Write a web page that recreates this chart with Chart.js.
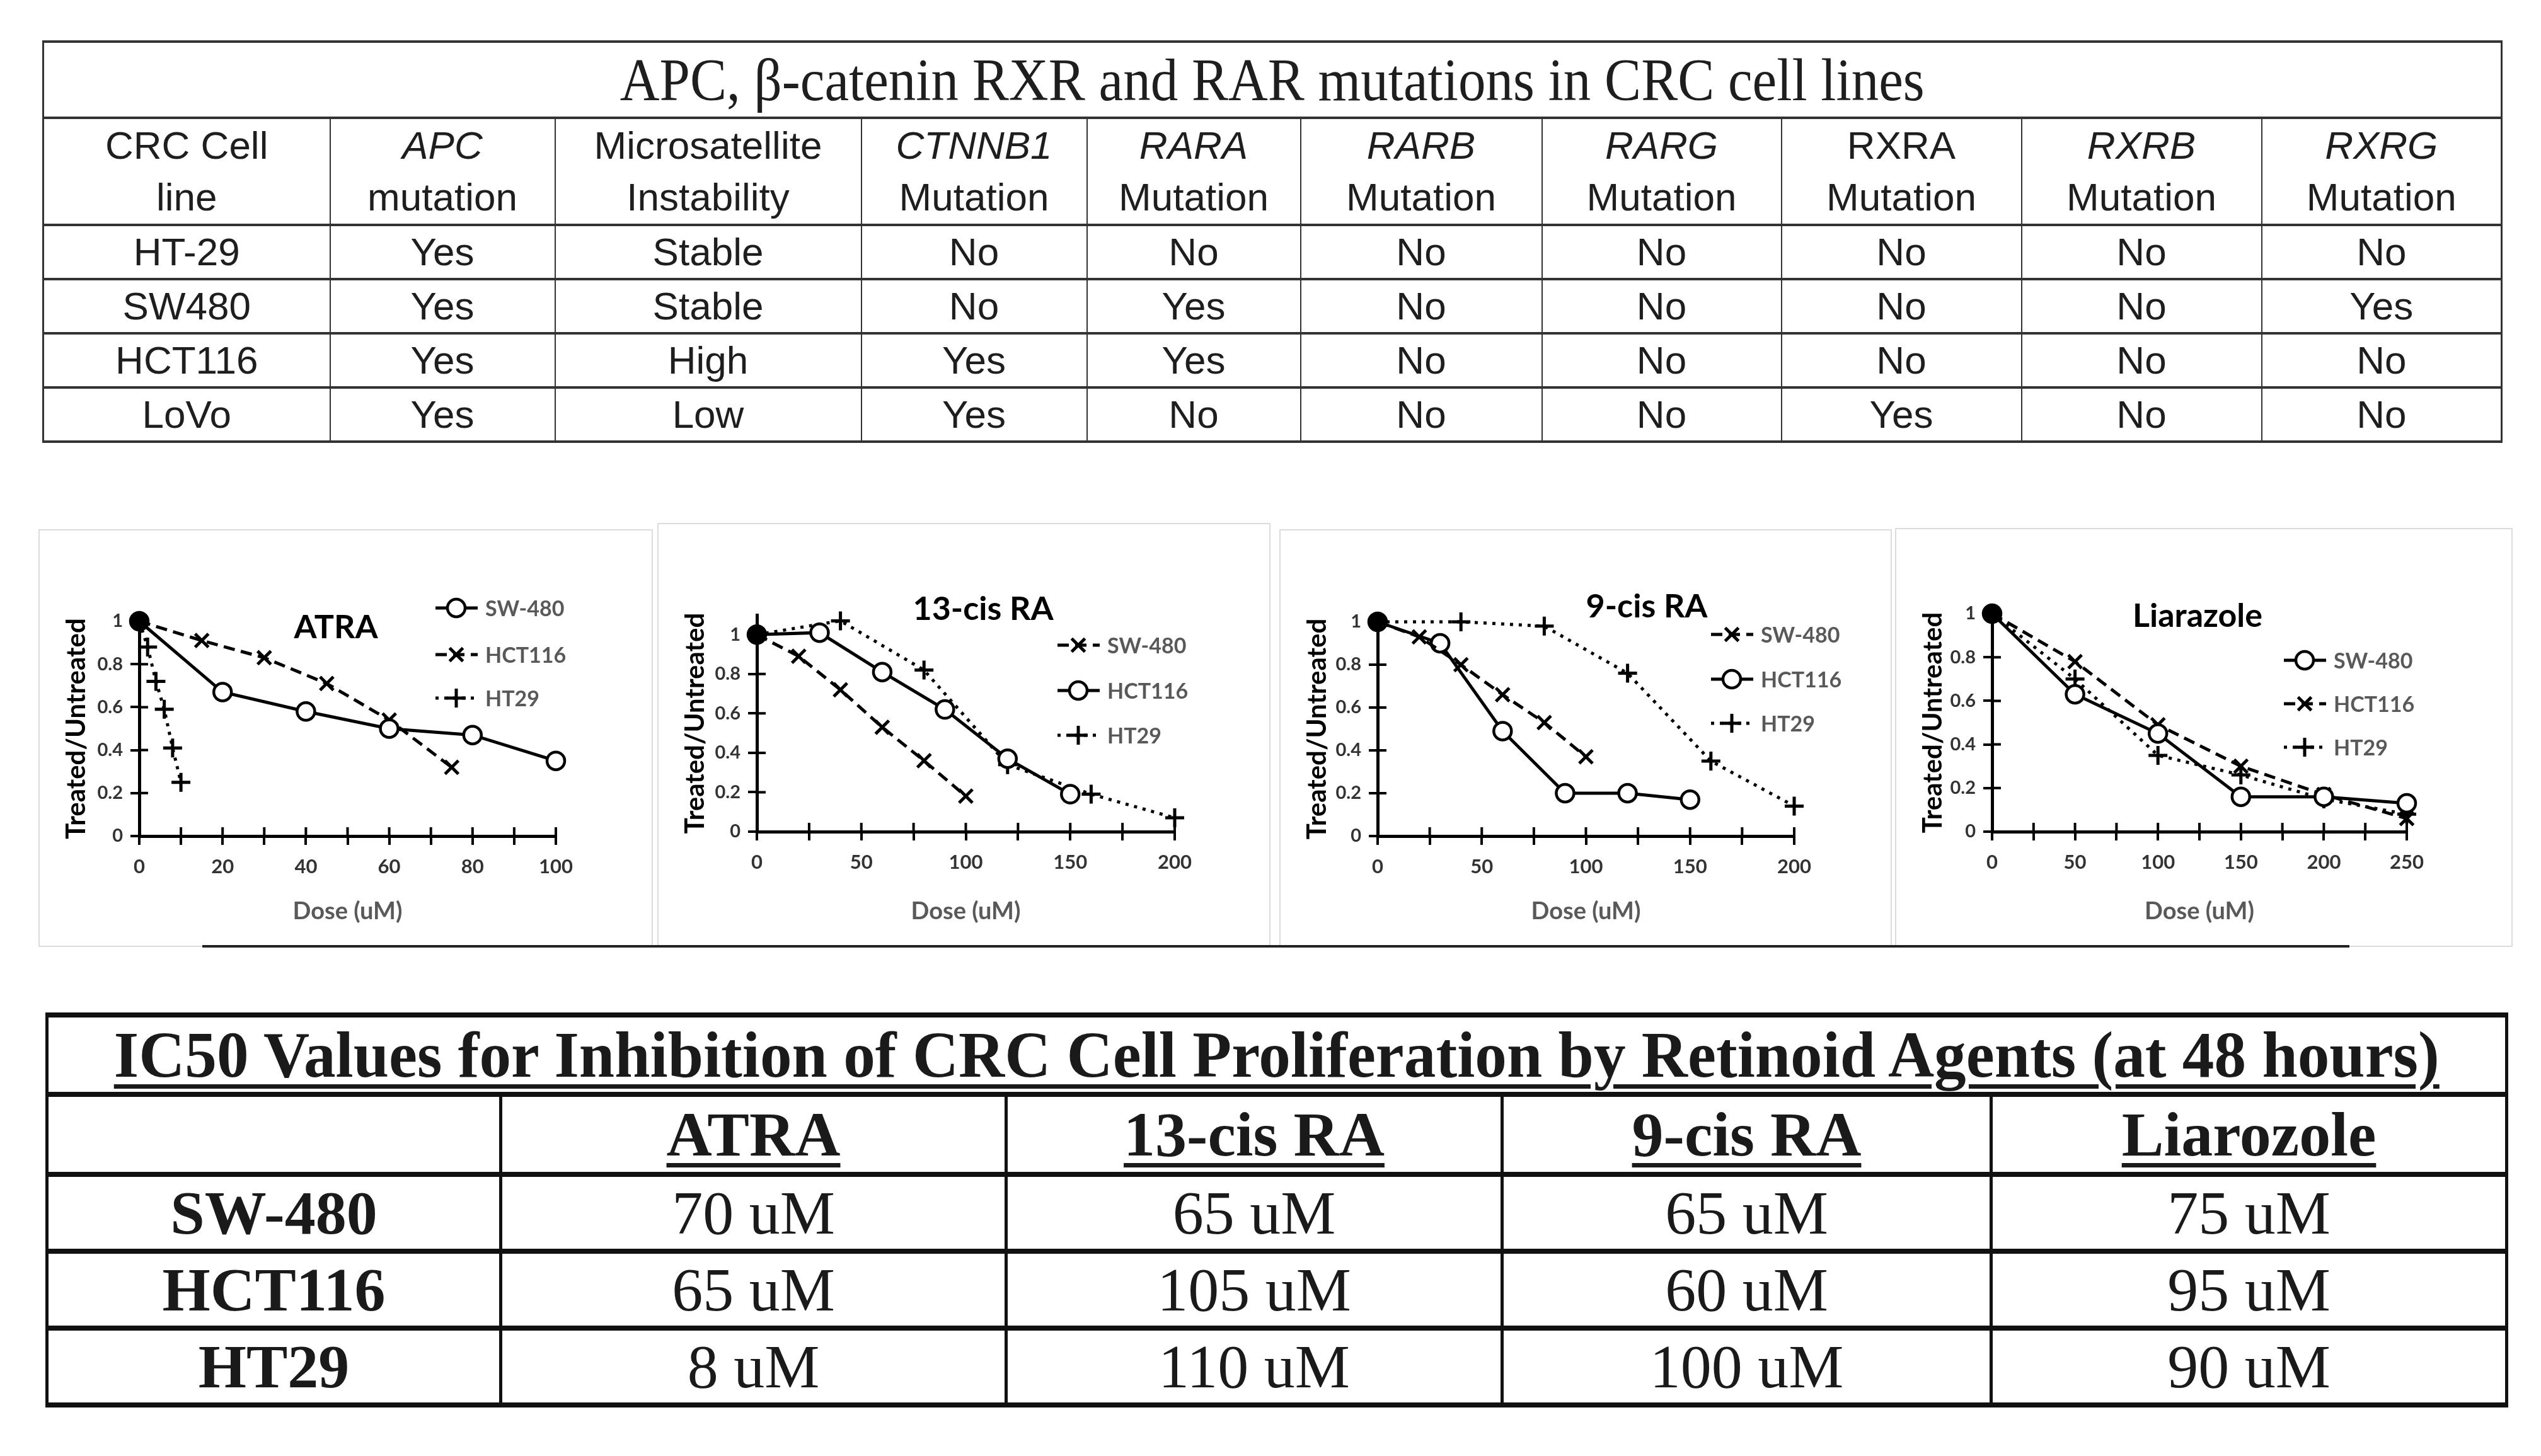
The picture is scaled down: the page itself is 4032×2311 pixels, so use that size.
<!DOCTYPE html>
<html>
<head>
<meta charset="utf-8">
<title>Retinoid agents in CRC cell lines</title>
<script src="https://cdn.jsdelivr.net/npm/chart.js@4.4.1/dist/chart.umd.min.js"></script>
<style>
  html, body { margin: 0; padding: 0; background: #fff; }
  body { position: relative; width: 4032px; height: 2311px; overflow: hidden; }
  table { position: absolute; border-collapse: collapse; table-layout: fixed; }
  td { padding: 0; text-align: center; vertical-align: middle; }

  #mutations { left: 67px; top: 64px; width: 3901px; border: 3px solid #333;
    font-family: 'Liberation Sans', Arial, sans-serif; font-size: 62px; color: #1e1e1e; }
  #mutations td { border: 2px solid #333; border-top-width: 4px; border-bottom-width: 4px; line-height: 82px; }
  #mutations tr.title td { height: 117px; font-family: 'Liberation Serif', 'Times New Roman', serif; font-size: 96px; }
  #mutations tr.head td { height: 166px; }
  #mutations tr.row td { height: 82px; }

  #ic50 { left: 72px; top: 1607px; width: 3903px; border-left: 4px solid #111; border-right: 4px solid #111;
    font-family: 'Liberation Serif', 'Times New Roman', serif; font-size: 98px; color: #1a1a1a; }
  #ic50 td { border-top: 8px solid #111; border-bottom: 8px solid #111; border-left: 5px solid #111; border-right: 5px solid #111; line-height: 1; }
  #ic50 tr.title td { height: 118px; font-weight: bold; font-size: 104px; }
  #ic50 tr.head td { height: 119px; font-weight: bold; font-size: 100px; }
  #ic50 tr.row td { height: 114px; }
  #ic50 td.line { font-weight: bold; }
  .ul { text-decoration: underline; text-decoration-thickness: 7px; text-underline-offset: 12px; }
  .fit { display: inline-block; white-space: nowrap; transform-origin: center; }

  .panel { position: absolute; box-sizing: border-box; border: 2px solid #dcdcdc; background: #fff; }
  .panel canvas { position: absolute; left: -2px; top: -2px; }
  #rule { position: absolute; left: 321px; top: 1500px; width: 3407px; height: 4px; background: #222; }
</style>
</head>
<body>
<table id="mutations"></table>
<div id="panels"></div>
<div id="rule"></div>
<table id="ic50"></table>

<script>
// ---- mutation table ----
const mutationTitle = 'APC, \u03b2-catenin RXR and RAR mutations in CRC cell lines';
const mutationHeadTop = ['CRC Cell', 'APC', 'Microsatellite', 'CTNNB1', 'RARA', 'RARB', 'RARG', 'RXRA', 'RXRB', 'RXRG'];
const mutationHeadBottom = ['line', 'mutation', 'Instability', 'Mutation', 'Mutation', 'Mutation', 'Mutation', 'Mutation', 'Mutation', 'Mutation'];
const mutationHeadItalic = [false, true, false, true, true, true, true, false, true, true];
const cellLines = ['HT-29', 'SW480', 'HCT116', 'LoVo'];
const mutationRows = [
  ['Yes', 'Stable', 'No', 'No', 'No', 'No', 'No', 'No', 'No'],
  ['Yes', 'Stable', 'No', 'Yes', 'No', 'No', 'No', 'No', 'Yes'],
  ['Yes', 'High', 'Yes', 'Yes', 'No', 'No', 'No', 'No', 'No'],
  ['Yes', 'Low', 'Yes', 'No', 'No', 'No', 'Yes', 'No', 'No'],
];
const mutationColWidths = [455, 357, 486, 358, 339, 383, 380, 381, 381, 381];

// ---- IC50 table ----
const ic50Title = 'IC50 Values for Inhibition of CRC Cell Proliferation by Retinoid Agents (at 48 hours)';
const agents = ['ATRA', '13-cis RA', '9-cis RA', 'Liarozole'];
const ic50Lines = ['SW-480', 'HCT116', 'HT29'];
const ic50Values = [
  [70, 65, 65, 75],
  [65, 105, 60, 95],
  [8, 110, 100, 90],
];
const ic50ColWidths = [720, 802, 787, 776, 818];

// ---- dose response curves (Treated/Untreated) ----
const yTickValues = [0, 0.2, 0.4, 0.6, 0.8, 1];

const atraSw480Dose = [0, 20, 40, 60, 80, 100];
const atraSw480 = [1, 0.67, 0.58, 0.50, 0.47, 0.35];
const atraHct116Dose = [0, 15, 30, 45, 60, 75];
const atraHct116 = [1, 0.91, 0.83, 0.71, 0.54, 0.32];
const atraHt29Dose = [0, 2, 4, 6, 8, 10];
const atraHt29 = [1, 0.88, 0.72, 0.59, 0.41, 0.25];

const cis13Sw480Dose = [0, 20, 40, 60, 80, 100];
const cis13Sw480 = [1, 0.89, 0.72, 0.53, 0.36, 0.18];
const cis13Hct116Dose = [0, 30, 60, 90, 120, 150];
const cis13Hct116 = [1, 1.01, 0.81, 0.62, 0.37, 0.19];
const cis13Ht29Dose = [0, 40, 80, 120, 160, 200];
const cis13Ht29 = [1, 1.07, 0.82, 0.34, 0.19, 0.07];

const cis9Sw480Dose = [0, 20, 40, 60, 80, 100];
const cis9Sw480 = [1, 0.93, 0.80, 0.66, 0.53, 0.37];
const cis9Hct116Dose = [0, 30, 60, 90, 120, 150];
const cis9Hct116 = [1, 0.90, 0.49, 0.20, 0.20, 0.17];
const cis9Ht29Dose = [0, 40, 80, 120, 160, 200];
const cis9Ht29 = [1, 1.0, 0.98, 0.76, 0.35, 0.14];

const liaDose = [0, 50, 100, 150, 200, 250];
const liaSw480 = [1, 0.63, 0.45, 0.16, 0.16, 0.13];
const liaHct116 = [1, 0.78, 0.49, 0.30, 0.17, 0.06];
const liaHt29 = [1, 0.70, 0.35, 0.26, 0.15, 0.08];

// build the mutation table
function el(tag, cls, html) {
  const e = document.createElement(tag);
  if (cls) e.className = cls;
  if (html !== undefined) e.innerHTML = html;
  return e;
}

const mt = document.getElementById('mutations');
const mcg = el('colgroup');
mutationColWidths.forEach(w => { const c = el('col'); c.style.width = w + 'px'; mcg.appendChild(c); });
mt.appendChild(mcg);
let tr = el('tr', 'title');
let td = el('td', '', `<span class="fit" id="mutTitle">${mutationTitle}</span>`);
td.colSpan = mutationColWidths.length;
tr.appendChild(td);
mt.appendChild(tr);
tr = el('tr', 'head');
mutationHeadTop.forEach((h, i) => {
  const top = mutationHeadItalic[i] ? `<i>${h}</i>` : h;
  tr.appendChild(el('td', '', `${top}<br>${mutationHeadBottom[i]}`));
});
mt.appendChild(tr);
cellLines.forEach((line, r) => {
  const row = el('tr', 'row');
  row.appendChild(el('td', '', line));
  mutationRows[r].forEach(v => row.appendChild(el('td', '', v)));
  mt.appendChild(row);
});

// build the IC50 table
const it = document.getElementById('ic50');
const icg = el('colgroup');
ic50ColWidths.forEach(w => { const c = el('col'); c.style.width = w + 'px'; icg.appendChild(c); });
it.appendChild(icg);
tr = el('tr', 'title');
td = el('td', '', `<span class="fit ul" id="icTitle">${ic50Title}</span>`);
td.colSpan = 5;
tr.appendChild(td);
it.appendChild(tr);
tr = el('tr', 'head');
tr.appendChild(el('td', '', ''));
agents.forEach(a => tr.appendChild(el('td', '', `<span class="ul">${a}</span>`)));
it.appendChild(tr);
ic50Lines.forEach((line, r) => {
  const row = el('tr', 'row');
  row.appendChild(el('td', 'line', line));
  ic50Values[r].forEach(v => row.appendChild(el('td', '', `${v} uM`)));
  it.appendChild(row);
});

// squeeze the two serif titles to the width they have in the figure
function fitWidth(id, target) {
  const s = document.getElementById(id);
  s.style.transform = '';
  const w = s.getBoundingClientRect().width;
  s.style.transform = `scaleX(${target / w})`;
}

// ---- charts ----
const styles = {
  solidCircle: { borderDash: [], pointStyle: 'circle', pointRadius: 14, pointBorderWidth: 4.5 },
  dashedCross: { borderDash: [18, 10], pointStyle: 'crossRot', pointRadius: 15, pointBorderWidth: 5 },
  dottedPlus: { borderDash: [5, 9], pointStyle: 'cross', pointRadius: 15, pointBorderWidth: 5 },
};

function series(label, doses, values, style) {
  return {
    label,
    data: doses.map((d, i) => ({ x: d, y: values[i] })),
    borderColor: '#000',
    borderWidth: 5,
    pointBorderColor: '#000',
    pointBackgroundColor: ctx => (ctx.dataIndex === 0 ? '#000' : '#fff'),
    clip: false,
    ...styles[style],
  };
}

const panels = [
  {
    title: 'ATRA', box: [61, 840, 975, 663], area: [160, 146, 821, 487],
    titlePos: [472, 156], legend: { x: 630, ys: [125, 199, 268] },
    xMax: 100, xStep: 10, xLabelStep: 20, yMax: 1,
    datasets: [
      series('SW-480', atraSw480Dose, atraSw480, 'solidCircle'),
      series('HCT116', atraHct116Dose, atraHct116, 'dashedCross'),
      series('HT29', atraHt29Dose, atraHt29, 'dottedPlus'),
    ],
  },
  {
    title: '13-cis RA', box: [1043, 830, 973, 673], area: [158, 146, 821, 490],
    titlePos: [517, 137], legend: { x: 635, ys: [194, 266, 337] },
    xMax: 200, xStep: 25, xLabelStep: 50, yMax: 1.1,
    datasets: [
      series('SW-480', cis13Sw480Dose, cis13Sw480, 'dashedCross'),
      series('HCT116', cis13Hct116Dose, cis13Hct116, 'solidCircle'),
      series('HT29', cis13Ht29Dose, cis13Ht29, 'dottedPlus'),
    ],
  },
  {
    title: '9-cis RA', box: [2030, 840, 972, 663], area: [156, 147, 817, 487],
    titlePos: [583, 123], legend: { x: 685, ys: [167, 238, 308] },
    xMax: 200, xStep: 25, xLabelStep: 50, yMax: 1,
    datasets: [
      series('SW-480', cis9Sw480Dose, cis9Sw480, 'dashedCross'),
      series('HCT116', cis9Hct116Dose, cis9Hct116, 'solidCircle'),
      series('HT29', cis9Ht29Dose, cis9Ht29, 'dottedPlus'),
    ],
  },
  {
    title: 'Liarazole', box: [3007, 838, 980, 665], area: [154, 136, 812, 482],
    titlePos: [480, 140], legend: { x: 617, ys: [210, 279, 348] },
    xMax: 250, xStep: 25, xLabelStep: 50, yMax: 1,
    datasets: [
      series('SW-480', liaDose, liaSw480, 'solidCircle'),
      series('HCT116', liaDose, liaHct116, 'dashedCross'),
      series('HT29', liaDose, liaHt29, 'dottedPlus'),
    ],
  },
];

// short tick marks on the inner side too, so they cross the axis lines
const crossTicks = {
  id: 'crossTicks',
  beforeDatasetsDraw(chart) {
    const { ctx, chartArea, scales: { x, y } } = chart;
    ctx.save();
    ctx.strokeStyle = '#000';
    ctx.lineWidth = 4;
    ctx.beginPath();
    x.ticks.forEach(t => {
      const px = x.getPixelForValue(t.value);
      ctx.moveTo(px, chartArea.bottom);
      ctx.lineTo(px, chartArea.bottom - 14);
    });
    y.ticks.forEach(t => {
      const py = y.getPixelForValue(t.value);
      ctx.moveTo(chartArea.left, py);
      ctx.lineTo(chartArea.left + 14, py);
    });
    ctx.stroke();
    ctx.restore();
  },
};

// title and legend sit inside the plot, as in the figure
const insideLabels = {
  id: 'insideLabels',
  afterDatasetsDraw(chart, args, opts) {
    const { ctx } = chart;
    ctx.save();
    ctx.fillStyle = '#000';
    ctx.font = 'bold 52px Lato';
    ctx.textAlign = 'center';
    ctx.textBaseline = 'middle';
    ctx.fillText(opts.title, opts.titlePos[0], opts.titlePos[1]);

    ctx.textAlign = 'left';
    ctx.font = 'bold 34px Lato';
    chart.data.datasets.forEach((ds, i) => {
      const y = opts.legend.ys[i];
      const x0 = opts.legend.x;
      ctx.strokeStyle = '#000';
      ctx.lineWidth = 5;
      ctx.setLineDash(ds.borderDash);
      ctx.beginPath();
      ctx.moveTo(x0, y);
      ctx.lineTo(x0 + 67, y);
      ctx.stroke();
      ctx.setLineDash([]);
      ctx.fillStyle = '#fff';
      ctx.lineWidth = ds.pointBorderWidth;
      Chart.helpers.drawPoint(ctx, { pointStyle: ds.pointStyle, radius: ds.pointRadius, borderWidth: ds.pointBorderWidth, rotation: 0 }, x0 + 33, y);
      ctx.fillStyle = '#595959';
      ctx.fillText(ds.label, x0 + 79, y + 2);
    });
    ctx.restore();
  },
};

const holder = document.getElementById('panels');
panels.forEach(p => {
  const [left, top, w, h] = p.box;
  const [aL, aT, aR, aB] = p.area;
  const div = el('div', 'panel');
  div.style.left = left + 'px';
  div.style.top = top + 'px';
  div.style.width = w + 'px';
  div.style.height = h + 'px';
  const canvas = el('canvas');
  canvas.width = w;
  canvas.height = h;
  div.appendChild(canvas);
  holder.appendChild(div);

  const padLeft = 31;
  new Chart(canvas.getContext('2d'), {
    type: 'line',
    data: { datasets: p.datasets },
    plugins: [crossTicks, insideLabels],
    options: {
      responsive: false,
      animation: false,
      devicePixelRatio: 1,
      layout: { autoPadding: false, padding: { left: padLeft, top: aT, right: w - aR, bottom: 0 } },
      plugins: {
        legend: { display: false },
        tooltip: { enabled: false },
        insideLabels: { title: p.title, titlePos: p.titlePos, legend: p.legend },
      },
      scales: {
        x: {
          type: 'linear',
          min: 0,
          max: p.xMax,
          border: { display: true, color: '#000', width: 5 },
          grid: { drawOnChartArea: false, drawTicks: true, tickLength: 14, color: '#000', lineWidth: 4 },
          ticks: {
            stepSize: p.xStep,
            autoSkip: false,
            maxRotation: 0,
            padding: 16,
            color: '#333',
            font: { family: 'Lato', weight: 'bold', size: 31 },
            callback: v => (v % p.xLabelStep === 0 ? v : ''),
          },
          title: {
            display: true,
            text: 'Dose (uM)',
            color: '#595959',
            font: { family: 'Lato', weight: 'bold', size: 38 },
            padding: { top: 4, bottom: 33 },
          },
          afterFit: s => { s.height = h - aB; },
        },
        y: {
          type: 'linear',
          min: 0,
          max: p.yMax,
          border: { display: true, color: '#000', width: 5 },
          grid: { drawOnChartArea: false, drawTicks: true, tickLength: 14, lineWidth: 4, color: '#000' },
          afterBuildTicks: s => { s.ticks = yTickValues.map(v => ({ value: v })); },
          ticks: {
            padding: 12,
            color: '#333',
            font: { family: 'Lato', weight: 'bold', size: 29 },
            callback: v => +v.toFixed(1),
          },
          title: {
            display: true,
            text: 'Treated/Untreated',
            color: '#000',
            font: { family: 'Lato', weight: 'bold', size: 42 },
            padding: 4,
          },
          afterFit: s => { s.width = aL - padLeft; },
        },
      },
    },
  });
});

document.fonts.ready.then(() => {
  fitWidth('mutTitle', 2070);
  fitWidth('icTitle', 3690);
});
</script>
</body>
</html>
